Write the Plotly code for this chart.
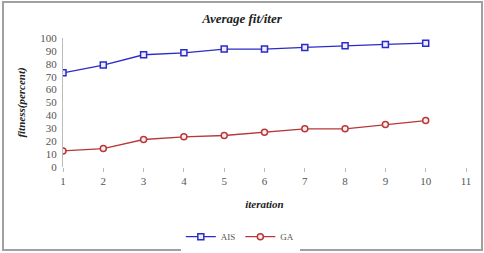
import plotly.graph_objects as go

iterations = [1, 2, 3, 4, 5, 6, 7, 8, 9, 10]
ais = [73, 79, 87, 88.5, 91.4, 91.4, 92.7, 94, 95, 96]
ga = [12.5, 14.3, 21.3, 23.4, 24.4, 27, 29.6, 29.6, 33, 36]
x_ticks = [1, 2, 3, 4, 5, 6, 7, 8, 9, 10, 11]
y_ticks = [0, 10, 20, 30, 40, 50, 60, 70, 80, 90, 100]

serif = "Liberation Serif, DejaVu Serif, serif"

fig = go.Figure()
fig.add_trace(go.Scatter(
    x=iterations, y=ais, name="AIS", mode="lines+markers",
    line=dict(color="#2B2BC8", width=1.3),
    marker=dict(symbol="square", size=6, color="#EEEEFF",
                line=dict(color="#2B2BC8", width=1.5)),
))
fig.add_trace(go.Scatter(
    x=iterations, y=ga, name="GA", mode="lines+markers",
    line=dict(color="#B8383A", width=1.3),
    marker=dict(symbol="circle", size=6, color="#FFEEEE",
                line=dict(color="#B8383A", width=1.5)),
))

fig.update_layout(
    width=484, height=253,
    margin=dict(l=63, r=18, t=38, b=86, autoexpand=False),
    paper_bgcolor="white", plot_bgcolor="white",
    title=dict(text="<b><i>Average fit/iter</i></b>", x=0.5, xanchor="center",
               xref="container", yref="container", y=1 - 18/253, yanchor="middle",
               font=dict(family=serif, size=13, color="#222")),
    font=dict(family=serif, size=11, color="#555"),
    showlegend=True,
    legend=dict(orientation="h", x=0.44, xanchor="center", y=-0.54, yanchor="middle",
                font=dict(family=serif, size=9, color="#555"),
                itemwidth=30, tracegroupgap=0),
    xaxis=dict(range=[1, 11], tickmode="array", tickvals=x_ticks,
               ticktext=[str(v) for v in x_ticks], automargin=False,
               showgrid=False, zeroline=False, showline=False,
               ticks="outside", ticklen=4, tickcolor="#BBB",
               tickfont=dict(size=11, color="#555"),
               title=dict(text="<b><i>iteration</i></b>", standoff=14,
                          font=dict(family=serif, size=11, color="#222"))),
    yaxis=dict(range=[0, 100], tickmode="array", tickvals=y_ticks, automargin=False,
               showgrid=False, zeroline=False, showline=True,
               linecolor="#BBB", linewidth=1, ticks="outside", ticklen=3,
               tickcolor="rgba(0,0,0,0)",
               tickfont=dict(size=11, color="#555"),
               title=dict(text="<b><i>fitness(percent)</i></b>", standoff=12,
                          font=dict(family=serif, size=11, color="#222"))),
    shapes=[dict(type="rect", xref="paper", yref="paper",
                 x0=-60/403, x1=1 + 16/403, y0=-83/129, y1=1 + 36/129,
                 line=dict(color="#A0A0A0", width=2))],
)

fig.write_html("out.html", config={"displayModeBar": False},
               post_script="document.body.style.margin='0';document.body.style.overflow='hidden';")
